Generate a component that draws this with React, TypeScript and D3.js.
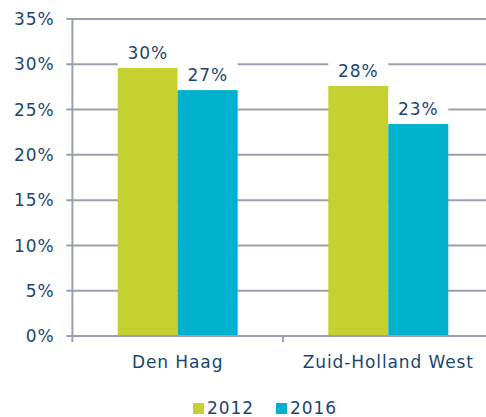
import React, { useEffect, useRef } from 'react'
import * as d3 from 'd3'

const categories = ['Den Haag', 'Zuid-Holland West']
const series = ['2012', '2016']
const values2012 = [29.6, 27.6]
const values2016 = [27.15, 23.4]
const labels2012 = ['30%', '28%']
const labels2016 = ['27%', '23%']
const yTicks = [0, 5, 10, 15, 20, 25, 30, 35]
const colors = ['#c5d130', '#00b2cd']

const W = 486
const H = 417
const textColor = '#1b4670'
const gridColor = '#9aa0ad'
const font = 'Verdana, "DejaVu Sans", sans-serif'
const fontSize = '17px'
const spacing = '0.9px'

export default function App() {
  const ref = useRef<SVGSVGElement>(null)

  useEffect(() => {
    const svg = d3.select(ref.current)
    svg.selectAll('*').remove()

    const margin = { left: 72.4, top: 19, bottom: 81 }
    const plotRight = 493.6
    const bottom = H - margin.bottom

    const x = d3.scaleBand().domain(categories).range([margin.left, plotRight]).padding(0)
    const y = d3.scaleLinear().domain([0, 35]).range([bottom, margin.top])
    const xSub = d3.scaleBand().domain(series).range([0, x.bandwidth()]).paddingInner(0).paddingOuter(0.755)

    const txt = (sel: any) => sel
      .attr('fill', textColor)
      .style('font-family', font)
      .style('font-size', fontSize)
      .style('letter-spacing', spacing)

    // gridlines
    svg.append('g')
      .selectAll('line')
      .data(yTicks.filter(d => d > 0))
      .enter().append('line')
      .attr('x1', margin.left - 6).attr('x2', plotRight)
      .attr('y1', d => y(d)).attr('y2', d => y(d))
      .attr('stroke', gridColor).attr('stroke-width', 2)

    // y tick labels
    svg.append('g')
      .selectAll('text')
      .data(yTicks)
      .enter().append('text')
      .attr('x', 54.5)
      .attr('y', d => y(d))
      .attr('dy', '0.36em')
      .attr('text-anchor', 'end')
      .call(txt)
      .text(d => d + '%')

    const rows = categories.map((c, i) => ({
      cat: c,
      vals: [
        { key: series[0], v: values2012[i], label: labels2012[i] },
        { key: series[1], v: values2016[i], label: labels2016[i] },
      ],
    }))

    const groups = svg.append('g')
      .selectAll('g')
      .data(rows)
      .enter().append('g')
      .attr('transform', d => 'translate(' + x(d.cat) + ',0)')

    groups.selectAll('rect.bar')
      .data(d => d.vals)
      .enter().append('rect')
      .attr('class', 'bar')
      .attr('x', d => xSub(d.key)!)
      .attr('y', d => y(d.v))
      .attr('width', xSub.bandwidth())
      .attr('height', d => bottom - y(d.v))
      .attr('fill', (d, i) => colors[i])

    // label backgrounds
    groups.selectAll('rect.lbl')
      .data(d => d.vals)
      .enter().append('rect')
      .attr('class', 'lbl')
      .attr('x', d => xSub(d.key)!)
      .attr('y', d => y(d.v) - 30)
      .attr('width', xSub.bandwidth())
      .attr('height', 28.5)
      .attr('fill', '#ffffff')

    groups.selectAll('text')
      .data(d => d.vals)
      .enter().append('text')
      .attr('x', d => xSub(d.key)! + xSub.bandwidth() / 2)
      .attr('y', d => y(d.v) - 9)
      .attr('text-anchor', 'middle')
      .call(txt)
      .text(d => d.label)

    // axes lines
    svg.append('line')
      .attr('x1', margin.left).attr('x2', margin.left)
      .attr('y1', margin.top).attr('y2', bottom + 6)
      .attr('stroke', gridColor).attr('stroke-width', 2)
    svg.append('line')
      .attr('x1', margin.left - 6).attr('x2', plotRight)
      .attr('y1', bottom).attr('y2', bottom)
      .attr('stroke', gridColor).attr('stroke-width', 2)
    svg.append('line')
      .attr('x1', margin.left + x.bandwidth()).attr('x2', margin.left + x.bandwidth())
      .attr('y1', bottom).attr('y2', bottom + 6)
      .attr('stroke', gridColor).attr('stroke-width', 2)

    // category labels
    svg.append('g')
      .selectAll('text')
      .data(categories)
      .enter().append('text')
      .attr('x', d => x(d)! + x.bandwidth() / 2)
      .attr('y', 368)
      .attr('text-anchor', 'middle')
      .call(txt)
      .text(d => d)

    // legend
    const legendX = [193, 276]
    const leg = svg.append('g')
    series.forEach((s, i) => {
      leg.append('rect')
        .attr('x', legendX[i]).attr('y', 403)
        .attr('width', 11).attr('height', 11)
        .attr('fill', colors[i])
      leg.append('text')
        .attr('x', legendX[i] + 14).attr('y', 414)
        .call(txt)
        .text(s)
    })
  }, [])

  return (
    <svg ref={ref} width={W} height={H} style={{ position: 'absolute', left: 0, top: 0, background: '#fff' }} />
  )
}
